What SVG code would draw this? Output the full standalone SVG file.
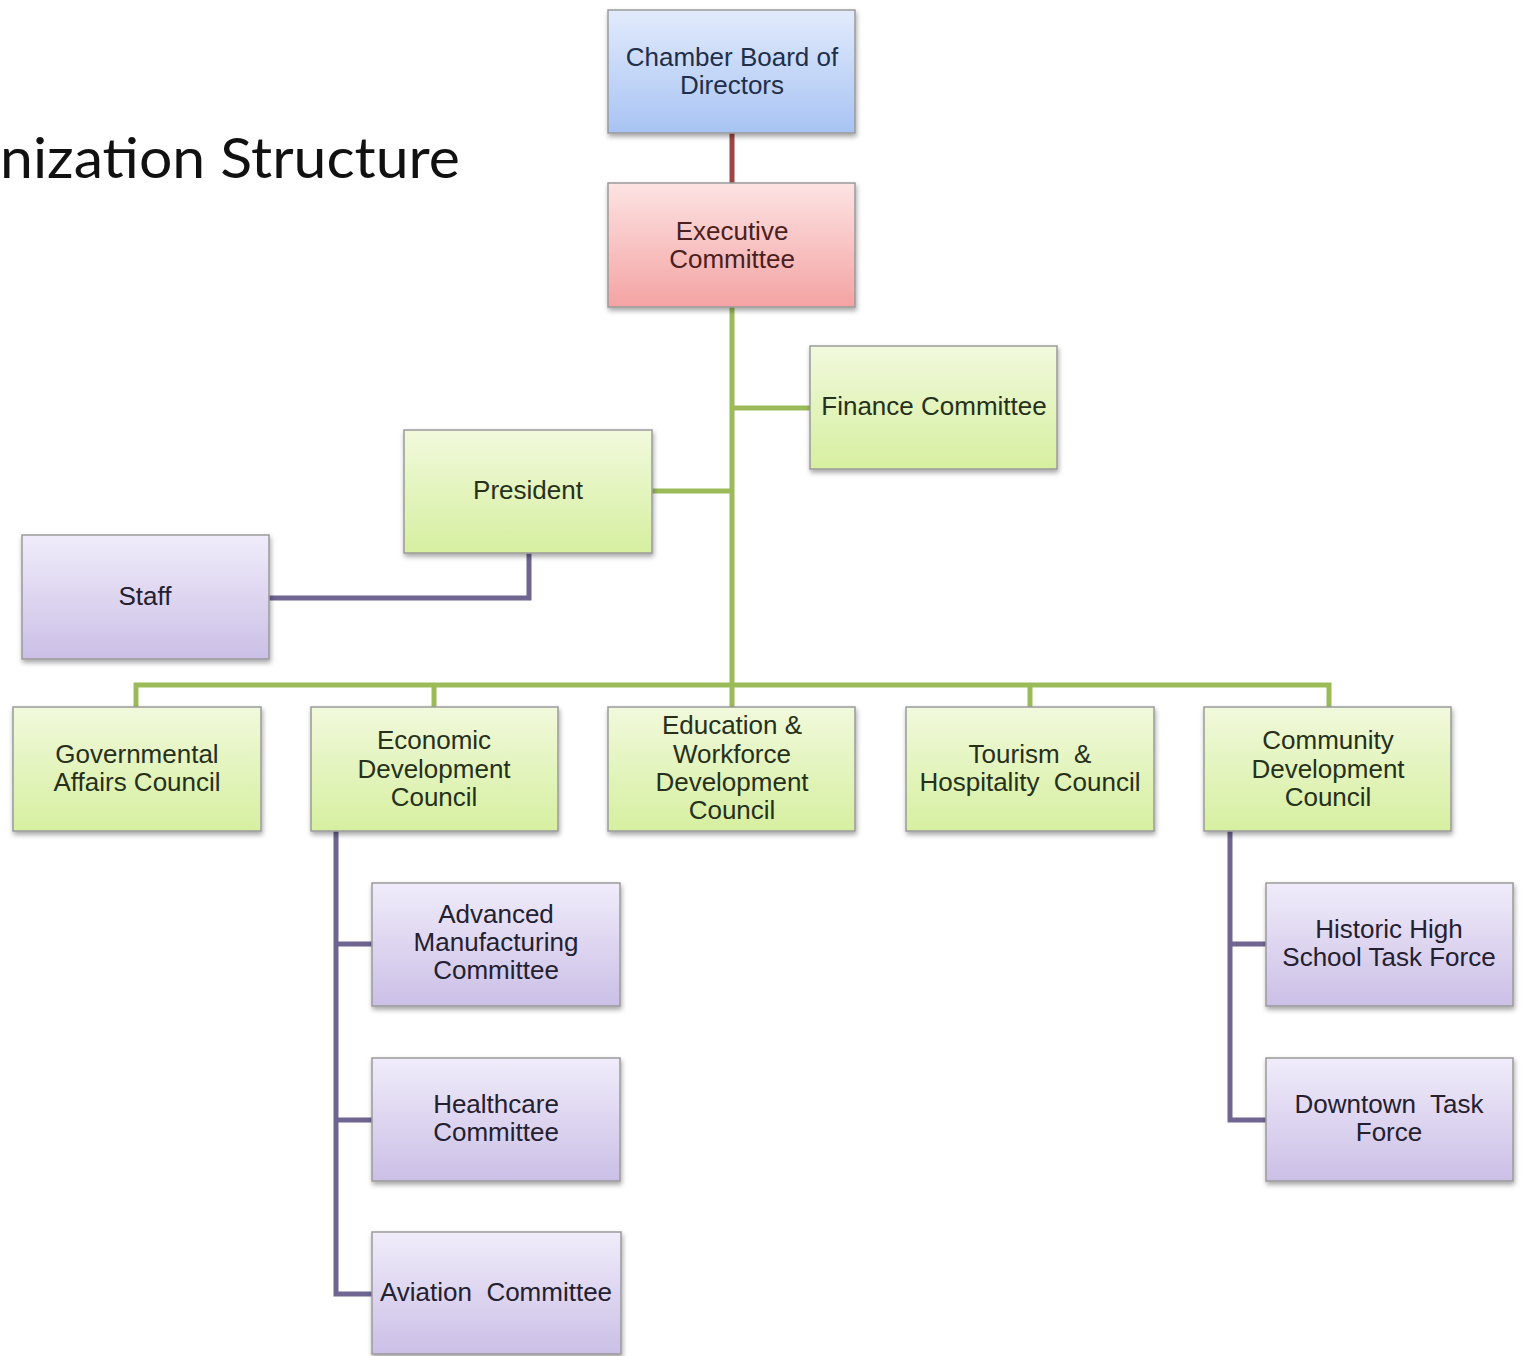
<svg xmlns="http://www.w3.org/2000/svg" width="1524" height="1356" viewBox="0 0 1524 1356">
<defs>
<linearGradient id="gBlue" x1="0" y1="0" x2="0" y2="1"><stop offset="0" stop-color="#e2ebfc"/><stop offset="1" stop-color="#a8c3f3"/></linearGradient>
<linearGradient id="gRed" x1="0" y1="0" x2="0" y2="1"><stop offset="0" stop-color="#fde3e3"/><stop offset="1" stop-color="#f4a3a3"/></linearGradient>
<linearGradient id="gGreen" x1="0" y1="0" x2="0" y2="1"><stop offset="0" stop-color="#f1f9dc"/><stop offset="1" stop-color="#d6efa0"/></linearGradient>
<linearGradient id="gPurple" x1="0" y1="0" x2="0" y2="1"><stop offset="0" stop-color="#f0ecfa"/><stop offset="1" stop-color="#cbbfe6"/></linearGradient>
<filter id="sh" x="-10%" y="-10%" width="125%" height="130%"><feDropShadow dx="1" dy="3" stdDeviation="2.5" flood-color="#000" flood-opacity="0.35"/></filter>
</defs>
<style>
.box{stroke:#9a9a9a;stroke-width:1.5;filter:url(#sh)}
.blue{fill:url(#gBlue)}
.red{fill:url(#gRed)}
.green{fill:url(#gGreen)}
.purple{fill:url(#gPurple)}
.t{font-family:"Liberation Sans",Arial,sans-serif;font-size:26px;text-anchor:middle;fill:#262626}
.tb{fill:#1f2f4a}
.tr{fill:#4a2020}
.tg{fill:#26301a}
.tp{fill:#242030}
.cg{stroke:#9bbb59;stroke-width:5;fill:none}
.cp{stroke:#6e6590;stroke-width:5;fill:none}
.cr{stroke:#a04545;stroke-width:5;fill:none}
</style>
<rect width="1524" height="1356" fill="#ffffff"/>
<text x="0" y="178" font-family="Lato,'Open Sans',sans-serif" font-size="56" fill="#111" textLength="460" lengthAdjust="spacingAndGlyphs">nization Structure</text>
<g id="connectors">
<path class="cr" d="M732 133V183"/>
<path class="cg" d="M732 307V685"/>
<path class="cg" d="M732 408H810"/>
<path class="cg" d="M652 491H732"/>
<path class="cg" d="M136 707V685H1329V707"/>
<path class="cg" d="M434 685V707M732 685V707M1030 685V707"/>
<path class="cp" d="M529 553V598H269"/>
<path class="cp" d="M336 831V1294H372M336 944H372M336 1120H372"/>
<path class="cp" d="M1230 831V1120H1266M1230 944H1266"/>
</g>
<g id="board"><rect class="box blue" x="608" y="10" width="247" height="123"/><text class="t tb" x="732" y="66">Chamber Board of</text><text class="t tb" x="732" y="94">Directors</text></g>
<g id="executive"><rect class="box red" x="608" y="183" width="247" height="124"/><text class="t tr" x="732" y="240">Executive</text><text class="t tr" x="732" y="268">Committee</text></g>
<g id="finance"><rect class="box green" x="810" y="346" width="247" height="123"/><text class="t tg" x="934" y="415">Finance Committee</text></g>
<g id="president"><rect class="box green" x="404" y="430" width="248" height="123"/><text class="t tg" x="528" y="499">President</text></g>
<g id="staff"><rect class="box purple" x="22" y="535" width="247" height="124"/><text class="t tp" x="145" y="605">Staff</text></g>
<g id="governmental"><rect class="box green" x="13" y="707" width="248" height="124"/><text class="t tg" x="137" y="763">Governmental</text><text class="t tg" x="137" y="791">Affairs Council</text></g>
<g id="economic"><rect class="box green" x="311" y="707" width="247" height="124"/><text class="t tg" x="434" y="749">Economic</text><text class="t tg" x="434" y="778">Development</text><text class="t tg" x="434" y="806">Council</text></g>
<g id="education"><rect class="box green" x="608" y="707" width="247" height="124"/><text class="t tg" x="732" y="734">Education &amp;</text><text class="t tg" x="732" y="763">Workforce</text><text class="t tg" x="732" y="791">Development</text><text class="t tg" x="732" y="819">Council</text></g>
<g id="tourism"><rect class="box green" x="906" y="707" width="248" height="124"/><text class="t tg" x="1030" y="763" xml:space="preserve">Tourism  &amp;</text><text class="t tg" x="1030" y="791" xml:space="preserve">Hospitality  Council</text></g>
<g id="community"><rect class="box green" x="1204" y="707" width="247" height="124"/><text class="t tg" x="1328" y="749">Community</text><text class="t tg" x="1328" y="778">Development</text><text class="t tg" x="1328" y="806">Council</text></g>
<g id="advanced"><rect class="box purple" x="372" y="883" width="248" height="123"/><text class="t tp" x="496" y="923">Advanced</text><text class="t tp" x="496" y="951">Manufacturing</text><text class="t tp" x="496" y="979">Committee</text></g>
<g id="healthcare"><rect class="box purple" x="372" y="1058" width="248" height="123"/><text class="t tp" x="496" y="1113">Healthcare</text><text class="t tp" x="496" y="1141">Committee</text></g>
<g id="aviation"><rect class="box purple" x="372" y="1232" width="249" height="122"/><text class="t tp" x="496" y="1301" xml:space="preserve">Aviation  Committee</text></g>
<g id="historic"><rect class="box purple" x="1266" y="883" width="247" height="123"/><text class="t tp" x="1389" y="938">Historic High</text><text class="t tp" x="1389" y="966">School Task Force</text></g>
<g id="downtown"><rect class="box purple" x="1266" y="1058" width="247" height="123"/><text class="t tp" x="1389" y="1113" xml:space="preserve">Downtown  Task</text><text class="t tp" x="1389" y="1141">Force</text></g>
</svg>
